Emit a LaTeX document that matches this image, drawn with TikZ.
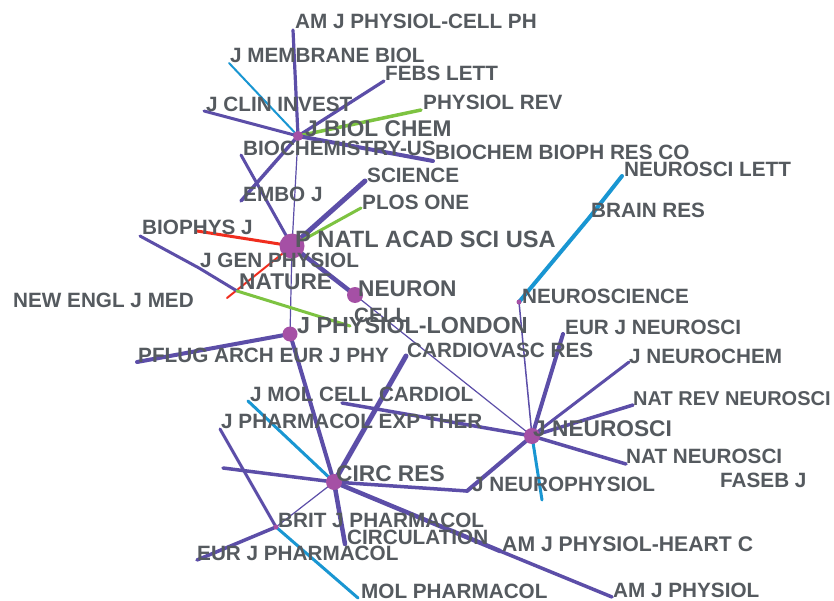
\documentclass[tikz,border=0pt]{standalone}
\usepackage{fontspec}
\setmainfont{Liberation Sans}
\definecolor{ep}{RGB}{92,78,168}
\definecolor{ec}{RGB}{25,150,210}
\definecolor{eg}{RGB}{125,195,65}
\definecolor{er}{RGB}{240,45,30}
\definecolor{nd}{RGB}{165,80,165}
\definecolor{tx}{RGB}{85,90,95}
\begin{document}
\begin{tikzpicture}[x=1pt,y=-1pt,
  lbl/.style={font=\bfseries\fontsize{20.7}{22}\selectfont, text=tx, anchor=base west, inner sep=0pt},
  big/.style={lbl, font=\bfseries\fontsize{22.7}{24}\selectfont},
  ep/.style={draw=ep, line width=#1, line cap=round}, ep/.default=3pt,
  ec/.style={draw=ec, line width=#1, line cap=round}, ec/.default=3pt,
  eg/.style={draw=eg, line width=#1, line cap=round}, eg/.default=3pt,
  er/.style={draw=er, line width=#1, line cap=round}, er/.default=3pt,
  hub/.style={fill=nd, draw=none, circle, inner sep=0pt, minimum size=#1}, hub/.default=4pt]
\useasboundingbox (0,0) rectangle (834,601);
\fill[white] (0,0) rectangle (834,601);
% positions
\coordinate (JBC) at (298,136);
\coordinate (AMcell) at (293,30);
\coordinate (JMEMB) at (229,63);
\coordinate (FEBS) at (384,81);
\coordinate (JCLIN) at (204,111);
\coordinate (PREV) at (421,110);
\coordinate (BBRC) at (433,161);
\coordinate (EMBO) at (241,201);
\coordinate (BIOUS) at (241,155);
\coordinate (PNAS) at (292,246);
\coordinate (SCI) at (365,181);
\coordinate (PLOS) at (361,208);
\coordinate (REDA) at (197,231);
\coordinate (REDB) at (227,298);
\coordinate (BPJ) at (140,236);
\coordinate (JGEN) at (199,268);
\coordinate (NAT) at (237,291);
\coordinate (CELL) at (350,326);
\coordinate (NEURON) at (355,295);
\coordinate (JPL) at (290,334);
\coordinate (PFLUG) at (137,362);
\coordinate (CIRC) at (334,482);
\coordinate (CARD) at (406,356);
\coordinate (CYA) at (248,401);
\coordinate (PUA) at (223,468);
\coordinate (BJP) at (276,527);
\coordinate (CIRCUL) at (345,544);
\coordinate (AMH) at (500,551);
\coordinate (AMP) at (612,597);
\coordinate (JNP) at (467,491);
\coordinate (JN) at (532,436);
\coordinate (NSCI) at (519,302);
\coordinate (EJN) at (563,334);
\coordinate (JNC) at (629,362);
\coordinate (NRN) at (633,405);
\coordinate (NN) at (626,464);
\coordinate (CYB) at (542,500);
\coordinate (JMCC) at (342,403);
\coordinate (JPET) at (220,429);
\coordinate (EJP) at (197,560);
\coordinate (MOLP) at (358,598);
\coordinate (BRES) at (589,218);
\coordinate (NSL) at (622,176);
% edges
\draw[ep=3.2pt] (JBC) -- (AMcell);
\draw[ec=2pt] (JBC) -- (JMEMB);
\draw[ep=3.2pt] (JBC) -- (FEBS);
\draw[ep=3pt] (JBC) -- (JCLIN);
\draw[eg=3.5pt] (JBC) -- (PREV);
\draw[ep=4pt] (JBC) -- (BBRC);
\draw[ep=3.5pt] (JBC) -- (EMBO);
\draw[ep=1.2pt] (JBC) -- (PNAS);
\draw[ep=3pt] (BIOUS) -- (PNAS);
\draw[ep=5pt] (PNAS) -- (SCI);
\draw[eg=3pt] (PNAS) -- (PLOS);
\draw[er=3pt] (PNAS) -- (REDA);
\draw[er=2pt] (PNAS) -- (REDB);
\draw[ep=4.5pt] (PNAS) -- (NEURON);
\draw[ep=1.2pt] (PNAS) -- (JPL);
\draw[ep=3pt] (BPJ) -- (JGEN) -- (NAT);
\draw[eg=3pt] (NAT) -- (CELL);
\draw[ep=1.2pt] (NEURON) -- (JN);
\draw[ep=4pt] (JPL) -- (PFLUG);
\draw[ep=4pt] (JPL) -- (CIRC);
\draw[ep=5pt] (CIRC) -- (CARD);
\draw[ec=3pt] (CIRC) -- (CYA);
\draw[ep=3.5pt] (CIRC) -- (PUA);
\draw[ep=1.2pt] (CIRC) -- (BJP);
\draw[ep=4.5pt] (CIRC) -- (CIRCUL);
\draw[ep=4.5pt] (CIRC) -- (AMH);
\draw[ep=3.5pt] (AMH) -- (AMP);
\draw[ep=3.5pt] (CIRC) -- (JNP);
\draw[ep=1.5pt] (JN) -- (NSCI);
\draw[ep=4pt] (JN) -- (EJN);
\draw[ep=3pt] (JN) -- (JNC);
\draw[ep=3.5pt] (JN) -- (NRN);
\draw[ep=3.5pt] (JN) -- (NN);
\draw[ec=3pt] (JN) -- (CYB);
\draw[ep=4pt] (JN) -- (JNP);
\draw[ep=3.5pt] (JN) -- (JMCC);
\draw[ep=3pt] (JPET) -- (BJP);
\draw[ep=3.5pt] (BJP) -- (EJP);
\draw[ec=3pt] (BJP) -- (MOLP);
\draw[ec=4pt] (NSCI) -- (BRES) -- (NSL);
% dots
\node[hub=10pt] (dJBC) at (JBC) {};
\node[hub=25pt] (dPNAS) at (PNAS) {};
\node[hub=16pt] (dNEURON) at (NEURON) {};
\node[hub=15pt] (dJPL) at (JPL) {};
\node[hub=16pt] (dJN) at (JN) {};
\node[hub=16pt] (dCIRC) at (CIRC) {};
\node[hub=5pt] (dNSCI) at (NSCI) {};
\node[hub=5pt] (dBJP) at (BJP) {};
% labels
\node[lbl] (tAMcell) at (295,29) {AM J PHYSIOL-CELL PH};
\node[lbl] (tJMEMB) at (230,63) {J MEMBRANE BIOL};
\node[lbl] (tFEBS) at (385,81) {FEBS LETT};
\node[lbl] (tJCLIN) at (206,112) {J CLIN INVEST};
\node[lbl] (tPREV) at (423,110) {PHYSIOL REV};
\node[big] (tJBC) at (305,137) {J BIOL CHEM};
\node[lbl] (tBIOUS) at (243,156) {BIOCHEMISTRY-US};
\node[lbl] (tBBRC) at (435,160) {BIOCHEM BIOPH RES CO};
\node[lbl] (tSCI) at (367,183) {SCIENCE};
\node[lbl] (tEMBO) at (243,202) {EMBO J};
\node[lbl] (tPLOS) at (362,210) {PLOS ONE};
\node[lbl] (tBPJ) at (142,235) {BIOPHYS J};
\node[big, font=\bfseries\fontsize{23.6}{25}\selectfont] (tPNAS) at (295,248) {P NATL ACAD SCI USA};
\node[lbl] (tJGEN) at (200,268) {J GEN PHYSIOL};
\node[big] (tNAT) at (239,290) {NATURE};
\node[lbl] (tNEJM) at (13,307) {NEW ENGL J MED};
\node[big] (tNEURON) at (358,296) {NEURON};
\node[lbl] (tCELL) at (354,322) {CELL};
\node[big, font=\bfseries\fontsize{23.3}{25}\selectfont] (tJPL) at (297,333) {J PHYSIOL-LONDON};
\node[lbl] (tPFLUG) at (138,362) {PFLUG ARCH EUR J PHY};
\node[lbl] (tCARD) at (407,357) {CARDIOVASC RES};
\node[lbl] (tNSCI) at (522,303) {NEUROSCIENCE};
\node[lbl] (tNSL) at (624,177) {NEUROSCI LETT};
\node[lbl] (tBRES) at (591,218) {BRAIN RES};
\node[lbl] (tEJN) at (565,334) {EUR J NEUROSCI};
\node[lbl] (tJNC) at (629,363) {J NEUROCHEM};
\node[lbl, font=\bfseries\fontsize{20}{22}\selectfont] (tNRN) at (633,405) {NAT REV NEUROSCI};
\node[big] (tJN) at (533,436) {J NEUROSCI};
\node[lbl] (tNN) at (626,463) {NAT NEUROSCI};
\node[lbl] (tFASEB) at (720,487) {FASEB J};
\node[lbl] (tJNP) at (472,491) {J NEUROPHYSIOL};
\node[lbl] (tJMCC) at (250,401) {J MOL CELL CARDIOL};
\node[lbl] (tJPET) at (221,428) {J PHARMACOL EXP THER};
\node[big] (tCIRC) at (336,481) {CIRC RES};
\node[lbl] (tBJP) at (278,527) {BRIT J PHARMACOL};
\node[lbl] (tCIRCUL) at (347,544) {CIRCULATION};
\node[lbl] (tEJP) at (197,560) {EUR J PHARMACOL};
\node[lbl] (tMOLP) at (361,598) {MOL PHARMACOL};
\node[lbl, font=\bfseries\fontsize{21.2}{22}\selectfont] (tAMH) at (502,551) {AM J PHYSIOL-HEART C};
\node[lbl] (tAMP) at (613,597) {AM J PHYSIOL};
\end{tikzpicture}
\end{document}
